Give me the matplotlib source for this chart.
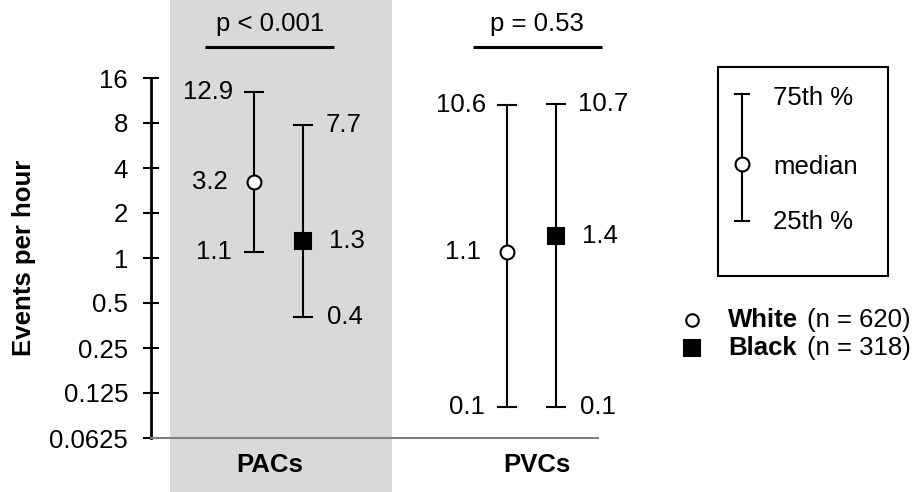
import numpy as np
import matplotlib
matplotlib.use("Agg")
import matplotlib.pyplot as plt
import matplotlib.transforms as mtransforms
from matplotlib.patches import Rectangle
from matplotlib.lines import Line2D
from matplotlib.ticker import NullLocator

plt.rcParams['font.family'] = ['Liberation Sans', 'DejaVu Sans']
plt.rcParams['font.size'] = 18.5

# data (events per hour)
groups = ["PACs", "PVCs"]
white_q1 = [1.1, 0.1]
white_med = [3.2, 1.1]
white_q3 = [12.9, 10.6]
black_q1 = [0.4, 0.1]
black_med = [1.3, 1.4]
black_q3 = [7.7, 10.7]
p_labels = ["p < 0.001", "p = 0.53"]
legend_names = ["White", "Black"]
legend_n = ["(n = 620)", "(n = 318)"]
yticks = [0.0625, 0.125, 0.25, 0.5, 1, 2, 4, 8, 16]
ytick_labels = ["0.0625", "0.125", "0.25", "0.5", "1", "2", "4", "8", "16"]

W, H = 917, 492
fig = plt.figure(figsize=(W / 100, H / 100), dpi=100)
ax = fig.add_axes([151 / W, 54 / H, 447 / W, 360 / H])
ax.set_yscale('log', base=2)
ax.set_ylim(0.0625, 16)
ax.set_xlim(0.496, 2.263)
ax.patch.set_visible(False)

x = np.arange(1, len(groups) + 1)
off = 0.097
lab_shift = np.array([-0.035, 0.022])

# grey band behind the PACs group
trans = mtransforms.blended_transform_factory(ax.transData, fig.transFigure)
ax.add_patch(Rectangle((x[0] - 0.43, 0), 0.88, 1, transform=trans,
                       color='#d9d9d9', zorder=0, clip_on=False, lw=0))

ekw = dict(ecolor='black', elinewidth=1.5, capsize=7, capthick=1.5,
           mec='black', mew=1.5, zorder=3, ls='none')
ax.errorbar(x - off, white_med,
            yerr=[np.subtract(white_med, white_q1), np.subtract(white_q3, white_med)],
            marker='o', ms=10, mfc='white', **ekw)
ax.errorbar(x + off, black_med,
            yerr=[np.subtract(black_med, black_q1), np.subtract(black_q3, black_med)],
            marker='s', ms=12, mfc='black', **ekw)

# value labels
for xi, q1, m, q3 in zip(x - off, white_q1, white_med, white_q3):
    for v, dx in ((q1, -16), (m, -19), (q3, -15)):
        ax.annotate(f"{v:g}", (xi, v), xytext=(dx, 0), textcoords='offset points',
                    ha='right', va='center')
for xi, q1, m, q3 in zip(x + off, black_q1, black_med, black_q3):
    for v, dx in ((q1, 17), (m, 19), (q3, 16)):
        ax.annotate(f"{v:g}", (xi, v), xytext=(dx, 0), textcoords='offset points',
                    ha='left', va='center')

# p-value brackets
xt = ax.get_xaxis_transform()
for xc, lab in zip(x + lab_shift, p_labels):
    ax.plot([xc - 0.255, xc + 0.255], [1.086, 1.086], transform=xt,
            color='black', lw=2.2, clip_on=False, solid_capstyle='butt')
    ax.text(xc, 1.15, lab, transform=xt, ha='center', va='center')

# axes styling
for s in ['top', 'right']:
    ax.spines[s].set_visible(False)
ax.spines['left'].set_linewidth(2)
ax.spines['bottom'].set_color('#808080')
ax.spines['bottom'].set_linewidth(1.5)
ax.set_yticks(yticks)
ax.set_yticklabels(ytick_labels)
ax.yaxis.set_minor_locator(NullLocator())
ax.tick_params(axis='y', direction='inout', length=11, width=1.5, pad=11)
ax.set_xticks(x + lab_shift)
ax.set_xticklabels(groups, fontweight='bold')
ax.tick_params(axis='x', length=0, pad=11)
ax.set_ylabel("Events per hour", fontweight='bold')
ax.yaxis.set_label_coords(-0.257, 0.5)

# key box
fig.add_artist(Rectangle((718 / W, 216 / H), 170 / W, 209 / H, transform=fig.transFigure,
                         fill=False, ec='black', lw=1.5))
kx = 742 / W
ktop, kbot, kmid = (H - 94) / H, (H - 221) / H, (H - 164) / H
fig.add_artist(Line2D([kx, kx], [kbot, ktop], color='black', lw=1.5))
for yy in (ktop, kbot):
    fig.add_artist(Line2D([kx - 7 / W, kx + 7 / W], [yy, yy], color='black', lw=1.5))
fig.add_artist(Line2D([kx], [kmid], marker='o', ms=10, mfc='white', mec='black', mew=1.5))
fig.text(773 / W, (H - 98) / H, "75th %", va='center')
fig.text(773 / W, (H - 167) / H, "median", va='center')
fig.text(773 / W, (H - 222) / H, "25th %", va='center')

# series legend
for yy, mk, fc, name, n in zip([320, 348], ['o', 's'], ['white', 'black'], legend_names, legend_n):
    fig.add_artist(Line2D([692 / W], [(H - yy) / H], marker=mk, ms=11 if mk == 's' else 9,
                          mfc=fc, mec='black', mew=1.5))
    fig.text(728 / W, (H - yy) / H, name, va='center', fontweight='bold')
    fig.text(807 / W, (H - yy) / H, n, va='center')

fig.savefig("out.png", dpi=100)
